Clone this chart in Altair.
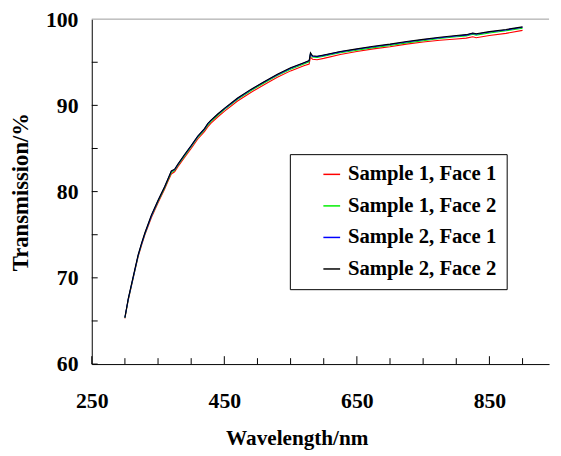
import altair as alt
import pandas as pd

wavelength = [300, 305, 310, 315, 320, 325, 330, 340, 350, 360, 365, 370, 375, 380,
              390, 400, 410, 420, 425, 430, 440, 450, 470, 490, 510, 530, 550, 570, 578,
              580, 583, 590, 600, 625, 650, 675, 700, 725, 750, 775, 800, 815, 825,
              830, 850, 875, 900]

s1_face1 = [65.3, 67.4, 69.1, 70.8, 72.45, 73.75, 74.95, 77.0, 78.7, 80.3, 81.2, 82.05, 82.3, 82.9,
            83.95, 85.0, 86.1, 86.95, 87.5, 87.95, 88.65, 89.3, 90.5, 91.5, 92.4, 93.25, 94.0, 94.6, 94.8,
            95.6, 95.35, 95.3, 95.45, 95.9, 96.25, 96.55, 96.8, 97.1, 97.35, 97.55, 97.7, 97.8, 97.95,
            97.85, 98.1, 98.35, 98.7]
s1_face2 = [65.35, 67.45, 69.15, 70.85, 72.55, 73.85, 75.05, 77.15, 78.85, 80.45, 81.35, 82.2, 82.45, 83.05,
            84.15, 85.2, 86.3, 87.15, 87.7, 88.15, 88.85, 89.5, 90.7, 91.7, 92.6, 93.45, 94.2, 94.8, 95.05,
            95.95, 95.6, 95.55, 95.7, 96.1, 96.4, 96.7, 96.95, 97.25, 97.5, 97.75, 97.95, 98.05, 98.25,
            98.15, 98.4, 98.65, 98.95]
s2_face1 = [65.4, 67.5, 69.2, 70.9, 72.6, 73.9, 75.1, 77.2, 78.95, 80.55, 81.45, 82.35, 82.55, 83.15,
            84.25, 85.3, 86.4, 87.25, 87.85, 88.25, 88.95, 89.6, 90.8, 91.8, 92.7, 93.55, 94.3, 94.9, 95.15,
            96.0, 95.7, 95.65, 95.8, 96.2, 96.5, 96.8, 97.05, 97.35, 97.6, 97.85, 98.05, 98.15, 98.35,
            98.25, 98.5, 98.75, 99.05]
s2_face2 = [65.4, 67.6, 69.3, 71.0, 72.7, 74.0, 75.2, 77.3, 79.0, 80.6, 81.5, 82.4, 82.6, 83.2,
            84.3, 85.35, 86.45, 87.3, 87.9, 88.3, 89.0, 89.65, 90.85, 91.85, 92.75, 93.6, 94.35, 94.95, 95.2,
            96.1, 95.75, 95.7, 95.85, 96.25, 96.55, 96.85, 97.1, 97.4, 97.65, 97.9, 98.1, 98.2, 98.4,
            98.3, 98.55, 98.8, 99.1]

series_names = ["Sample 1, Face 1", "Sample 1, Face 2", "Sample 2, Face 1", "Sample 2, Face 2"]
series_colors = ["#ff0000", "#00ee00", "#0000ff", "#000000"]
series_values = [s1_face1, s1_face2, s2_face1, s2_face2]

x_label_values = [250, 450, 650, 850]
x_minor_ticks = [300, 350, 400, 500, 550, 600, 700, 750, 800, 900]
y_label_values = [60, 70, 80, 90, 100]
y_tick_values = [60, 65, 70, 75, 80, 85, 90, 95]

rows = []
for name, vals in zip(series_names, series_values):
    assert len(vals) == len(wavelength), name
    for w, v in zip(wavelength, vals):
        rows.append({"wl": w, "T": v, "series": name})
df = pd.DataFrame(rows)

FONT = "Liberation Serif"
W, H = 464, 350

x_scale = alt.Scale(domain=[250, 940], nice=False, zero=False)
y_scale = alt.Scale(domain=[60, 100], nice=False, zero=False)

x_axis = alt.Axis(values=x_label_values, title="Wavelength/nm", ticks=False, tickSize=0,
                  labelPadding=44, labelBaseline="alphabetic", labelFontSize=22,
                  labelFont=FONT, labelFontWeight="bold", labelColor="black",
                  titleFont=FONT, titleFontWeight="bold", titleColor="black",
                  titleFontSize=21.5, titleX=208, titleY=82, titleBaseline="alphabetic",
                  domainColor="black", grid=False, labelFlush=False, labelOverlap=False)
y_axis = alt.Axis(values=y_label_values, title="Transmission/%", ticks=False, tickSize=0,
                  labelPadding=14, labelFontSize=22,
                  labelFont=FONT, labelFontWeight="bold", labelColor="black",
                  titleFont=FONT, titleFontWeight="bold", titleColor="black",
                  titleFontSize=23, titleX=-65, titleY=175,
                  titleAngle=270, titleBaseline="alphabetic", domainColor="black",
                  grid=False, labelFlush=False, labelOverlap=False)

lines = alt.Chart(df).mark_line(strokeWidth=1.1, clip=True).encode(
    x=alt.X("wl:Q", scale=x_scale, axis=x_axis),
    y=alt.Y("T:Q", scale=y_scale, axis=y_axis),
    color=alt.Color("series:N",
                    scale=alt.Scale(domain=series_names, range=series_colors),
                    legend=alt.Legend(orient="none", legendX=201, legendY=137, title=None,
                                      strokeColor="black", fillColor="white", padding=10,
                                      symbolType="stroke", symbolSize=289, symbolStrokeWidth=1.5,
                                      symbolOffset=22, labelOffset=6, rowPadding=10,
                                      labelFontSize=21, labelFont=FONT, labelFontWeight="bold",
                                      labelColor="black",
                                      labelExpr="datum.label + '     '")),
)

top_border = alt.Chart(pd.DataFrame({"T": [100]})).mark_rule(color="#9a9a9a", strokeWidth=1).encode(
    y=alt.Y("T:Q", scale=y_scale, axis=y_axis)
)

x_major = alt.Chart(pd.DataFrame({"wl": x_label_values})).mark_rule(color="black").encode(
    x=alt.X("wl:Q", scale=x_scale, axis=x_axis), y=alt.value(H), y2=alt.value(H - 8)
)
x_minor = alt.Chart(pd.DataFrame({"wl": x_minor_ticks})).mark_rule(color="black").encode(
    x=alt.X("wl:Q", scale=x_scale, axis=x_axis), y=alt.value(H), y2=alt.value(H - 6)
)
y_ticks = alt.Chart(pd.DataFrame({"T": y_tick_values})).mark_rule(color="black").encode(
    y=alt.Y("T:Q", scale=y_scale, axis=y_axis), x=alt.value(0), x2=alt.value(6)
)

chart = alt.layer(top_border, x_major, x_minor, y_ticks, lines).properties(
    width=W, height=H,
    background="white",
    autosize=alt.AutoSizeParams(type="none"),
    padding={"left": 85, "top": 8, "right": 4, "bottom": 92},
).configure_view(stroke=None).configure_axis(
    domainColor="black", domainWidth=1, labelFont=FONT, titleFont=FONT,
    labelFontWeight="bold", titleFontWeight="bold", labelColor="black", titleColor="black",
)

chart.save("out.html", embed_options={"renderer": "svg", "actions": False})
